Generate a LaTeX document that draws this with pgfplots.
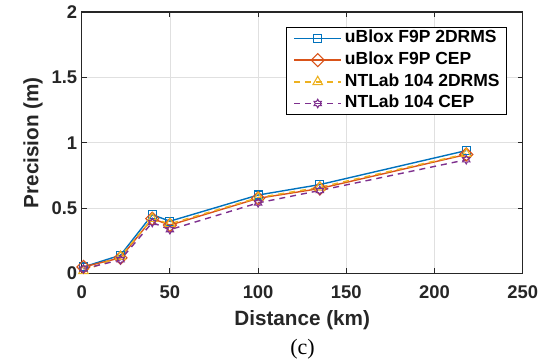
\documentclass[border=0pt]{standalone}
\usepackage{pgfplots}
\pgfplotsset{compat=1.18}
\usepackage{fontspec}
\setmainfont{Liberation Sans}
\newfontfamily\seriffont{Liberation Serif}
\definecolor{mblue}{rgb}{0,0.447,0.741}
\definecolor{morange}{rgb}{0.85,0.325,0.098}
\definecolor{myellow}{rgb}{0.929,0.694,0.125}
\definecolor{mpurple}{rgb}{0.494,0.184,0.556}
\definecolor{axgray}{RGB}{38,38,38}
\pgfdeclareplotmark{hexagram}{%
  \pgfpathmoveto{\pgfqpointpolar{90}{\pgfplotmarksize}}%
  \pgfpathlineto{\pgfqpointpolar{120}{0.577\pgfplotmarksize}}%
  \pgfpathlineto{\pgfqpointpolar{150}{\pgfplotmarksize}}%
  \pgfpathlineto{\pgfqpointpolar{180}{0.577\pgfplotmarksize}}%
  \pgfpathlineto{\pgfqpointpolar{210}{\pgfplotmarksize}}%
  \pgfpathlineto{\pgfqpointpolar{240}{0.577\pgfplotmarksize}}%
  \pgfpathlineto{\pgfqpointpolar{270}{\pgfplotmarksize}}%
  \pgfpathlineto{\pgfqpointpolar{300}{0.577\pgfplotmarksize}}%
  \pgfpathlineto{\pgfqpointpolar{330}{\pgfplotmarksize}}%
  \pgfpathlineto{\pgfqpointpolar{0}{0.577\pgfplotmarksize}}%
  \pgfpathlineto{\pgfqpointpolar{30}{\pgfplotmarksize}}%
  \pgfpathlineto{\pgfqpointpolar{60}{0.577\pgfplotmarksize}}%
  \pgfpathclose
  \pgfusepathqstroke
}
\pgfdeclareplotmark{mdiamond}{%
  \pgfpathmoveto{\pgfqpoint{0pt}{\pgfplotmarksize}}%
  \pgfpathlineto{\pgfqpoint{\pgfplotmarksize}{0pt}}%
  \pgfpathlineto{\pgfqpoint{0pt}{-\pgfplotmarksize}}%
  \pgfpathlineto{\pgfqpoint{-\pgfplotmarksize}{0pt}}%
  \pgfpathclose
  \pgfusepathqstroke
}
\pgfplotstableread{
x   a     b      c      d
1   0.05  0.05   0.02   0.035
22  0.14  0.12   0.13   0.105
40  0.45  0.42   0.42   0.39
50  0.40  0.37   0.38   0.335
100 0.60  0.575  0.58   0.54
135 0.68  0.65   0.66   0.635
218 0.94  0.91   0.915  0.87
}\datatable
\begin{document}
\begin{tikzpicture}
\path[use as bounding box] (-81.7pt,-89.5pt) rectangle (467.3pt,273.5pt);
\begin{axis}[
  at={(0,0)}, anchor=south west,
  width=441pt, height=261.5pt, scale only axis,
  xmin=0, xmax=250, ymin=0, ymax=2,
  xtick={0,50,100,150,200,250},
  ytick={0,0.5,1,1.5,2},
  yticklabels={0,0.5,1,1.5,2},
  /pgf/number format/assume math mode=true,
  tick label style={font=\bfseries\fontsize{18.4}{21}\selectfont, text=axgray},
  xticklabel style={anchor=base, yshift=-25.5pt},
  yticklabel style={anchor=east, xshift=-1pt},
  label style={font=\bfseries\fontsize{20.7}{24}\selectfont, text=axgray},
  xlabel={Distance (km)},
  ylabel={Precision (m)},
  xlabel style={at={(axis description cs:0.5,-0.197)}, anchor=base},
  ylabel style={at={(axis description cs:-0.1104,0.5)}, anchor=center},
  axis line style={axgray, line width=1.2pt},
  tick style={axgray, line width=0.8pt},
  tick align=inside,
  major tick length=5pt,
  xtick pos=both, ytick pos=both,
  grid=major,
  grid style={black!12, line width=0.7pt},
  every axis plot/.append style={line width=1.4pt, mark options={solid, line width=1.1pt, fill=none}},
  legend style={at={(0.9644,0.9426)}, anchor=north east, draw=black, line width=0.9pt,
    font=\bfseries\fontsize{17.5}{20}\selectfont, text=black,
    row sep=5.4pt, inner xsep=7pt, inner ysep=2.8pt,
    nodes={inner sep=0pt, text height=12.6pt, text depth=3.7pt},
    cells={anchor=west}},
  legend image code/.code={
    \draw[mark repeat=2, mark phase=2] plot coordinates {(0pt,0pt) (23.5pt,0pt) (47pt,0pt)};
    \path (50pt,0pt);
  },
]
\addplot[color=mblue, mark=square, mark size=4pt] table[x=x, y=a] {\datatable};
\addlegendentry{uBlox F9P 2DRMS}
\addplot[color=morange, mark=mdiamond, mark size=6.5pt] table[x=x, y=b] {\datatable};
\addlegendentry{uBlox F9P CEP}
\addplot[color=myellow, dash pattern=on 6pt off 5pt, mark=triangle, mark size=5.5pt] table[x=x, y=c] {\datatable};
\addlegendentry{NTLab 104 2DRMS}
\addplot[color=mpurple, dash pattern=on 6pt off 5pt, mark=hexagram, mark size=4.2pt] table[x=x, y=d] {\datatable};
\addlegendentry{NTLab 104 CEP}
\end{axis}
\node[font=\seriffont\fontsize{22}{24}\selectfont, anchor=center] at (220.8pt,-76pt) {(c)};
\end{tikzpicture}
\end{document}
